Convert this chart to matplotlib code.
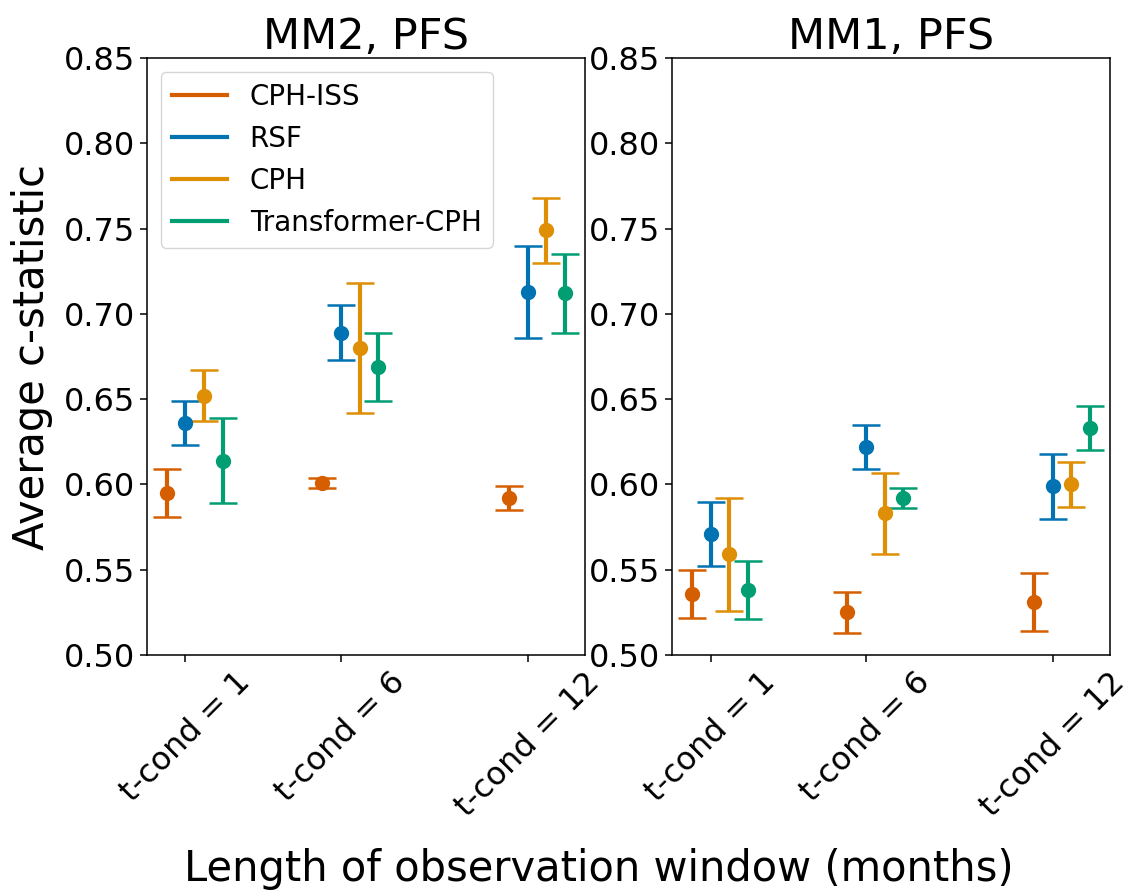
import matplotlib
matplotlib.use("Agg")
import matplotlib.pyplot as plt
from matplotlib.lines import Line2D
import numpy as np

# Observation-window lengths (months) and their tick labels
t_cond = [1, 6, 12]
tick_labels = ["t-cond = 1", "t-cond = 6", "t-cond = 12"]

models = ["CPH-ISS", "RSF", "CPH", "Transformer-CPH"]
colors = ["#D55E00", "#0173B2", "#DE8F05", "#029E73"]
offsets = [-0.6, 0.0, 0.6, 1.2]

# MM2, PFS: mean c-statistic with lower / upper interval bounds
mm2_mean = {
    "CPH-ISS":         [0.595, 0.601, 0.592],
    "RSF":             [0.636, 0.689, 0.713],
    "CPH":             [0.652, 0.680, 0.749],
    "Transformer-CPH": [0.614, 0.669, 0.712],
}
mm2_low = {
    "CPH-ISS":         [0.581, 0.598, 0.585],
    "RSF":             [0.623, 0.673, 0.686],
    "CPH":             [0.637, 0.642, 0.730],
    "Transformer-CPH": [0.589, 0.649, 0.689],
}
mm2_high = {
    "CPH-ISS":         [0.609, 0.604, 0.599],
    "RSF":             [0.649, 0.705, 0.740],
    "CPH":             [0.667, 0.718, 0.768],
    "Transformer-CPH": [0.639, 0.689, 0.735],
}

# MM1, PFS
mm1_mean = {
    "CPH-ISS":         [0.536, 0.525, 0.531],
    "RSF":             [0.571, 0.622, 0.599],
    "CPH":             [0.559, 0.583, 0.600],
    "Transformer-CPH": [0.538, 0.592, 0.633],
}
mm1_low = {
    "CPH-ISS":         [0.522, 0.513, 0.514],
    "RSF":             [0.552, 0.609, 0.580],
    "CPH":             [0.526, 0.559, 0.587],
    "Transformer-CPH": [0.521, 0.586, 0.620],
}
mm1_high = {
    "CPH-ISS":         [0.550, 0.537, 0.548],
    "RSF":             [0.590, 0.635, 0.618],
    "CPH":             [0.592, 0.607, 0.613],
    "Transformer-CPH": [0.555, 0.598, 0.646],
}

yticks = [0.50, 0.55, 0.60, 0.65, 0.70, 0.75, 0.80, 0.85]

fig = plt.figure(figsize=(11.3, 8.94), dpi=100)
ax_left = fig.add_axes([0.130, 0.2673, 0.3876, 0.6678])
ax_right = fig.add_axes([0.5947, 0.2673, 0.3876, 0.6678])


def draw_panel(ax, means, lows, highs, title):
    for name, col, off in zip(models, colors, offsets):
        m = np.array(means[name])
        lo = np.array(lows[name])
        hi = np.array(highs[name])
        x = np.array(t_cond) + off
        ax.errorbar(x, m, yerr=[m - lo, hi - m], fmt="o", color=col,
                    markersize=10, elinewidth=3.0, capsize=10, capthick=1.8)
    ax.set_ylim(0.50, 0.85)
    ax.set_yticks(yticks)
    ax.set_yticklabels([f"{v:.2f}" for v in yticks])
    ax.set_xticks(t_cond)
    ax.set_xticklabels(tick_labels, rotation=45)
    ax.tick_params(labelsize=23, length=5, width=1.1)
    for sp in ax.spines.values():
        sp.set_linewidth(1.1)
    ax.set_title(title, fontsize=31, pad=6)


draw_panel(ax_left, mm2_mean, mm2_low, mm2_high, "MM2, PFS")
draw_panel(ax_right, mm1_mean, mm1_low, mm1_high, "MM1, PFS")

ax_left.set_ylabel("Average c-statistic", fontsize=30, labelpad=8)
fig.text(0.530, 0.014, "Length of observation window (months)",
         fontsize=30, ha="center", va="baseline")

handles = [Line2D([0], [0], color=c, lw=3.0) for c in colors]
ax_left.legend(handles, models, loc="upper left", fontsize=20,
               handlelength=2.0)

fig.savefig("out.png", dpi=100)
